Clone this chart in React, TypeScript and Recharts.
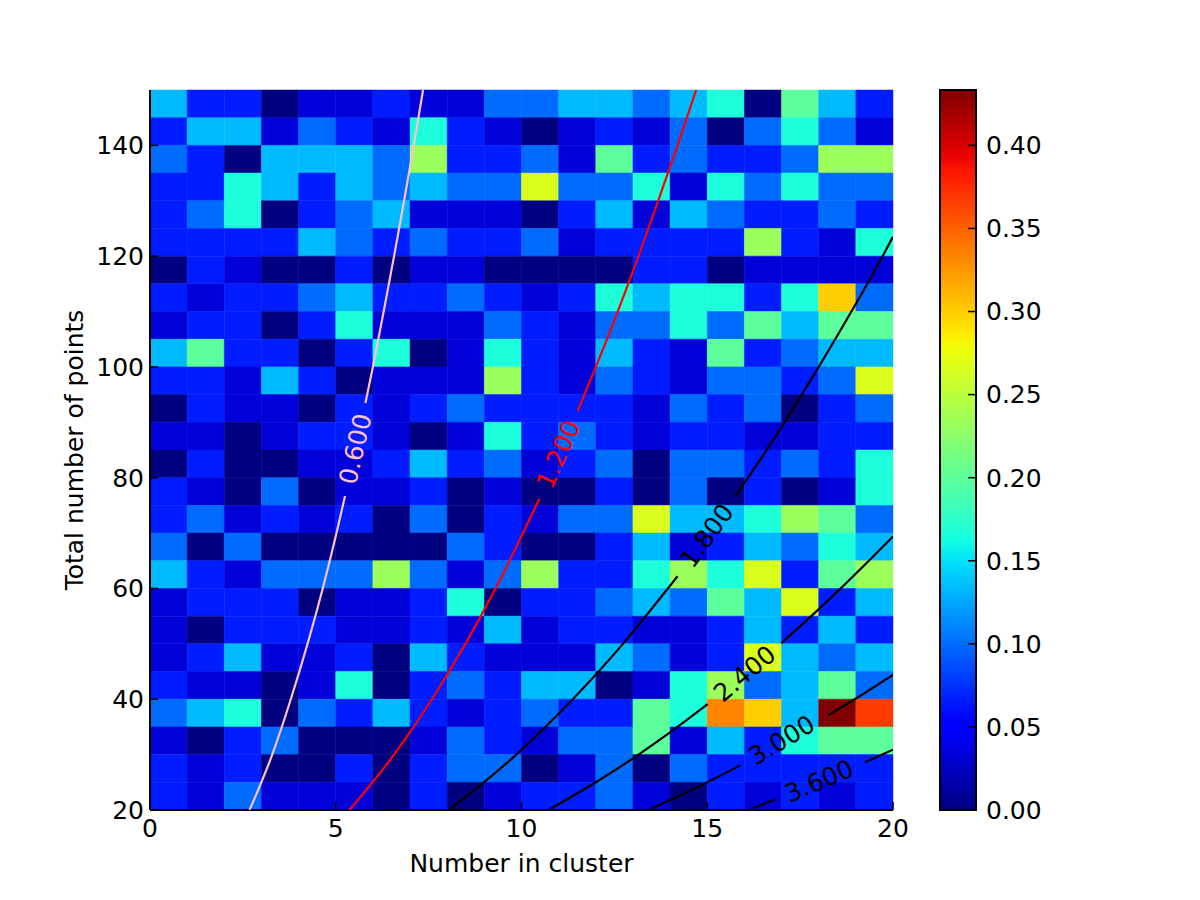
import { ScatterChart, Scatter, XAxis, YAxis, ReferenceArea, ComposedChart } from 'recharts';

const xTicks = [0, 5, 10, 15, 20];
const yTicks = [20, 40, 60, 80, 100, 120, 140];
const colorbarTicks = [0, 0.05, 0.1, 0.15, 0.2, 0.25, 0.3, 0.35, 0.4];

// 30 trials per cell; the colour is the fraction of hits
const TRIALS = 30;
const VMAX = 13 / TRIALS;

// lower edge of each 5-point row, listed top row first
const rowBottoms = [145, 140, 135, 130, 125, 120, 115, 110, 105, 100, 95, 90, 85, 80, 75, 70, 65, 60, 55, 50, 45, 40, 35, 30, 25, 20];

// hits per cell, columns = number in cluster 0..19
const hits = [
  [4, 2, 2, 0, 1, 1, 2, 1, 1, 3, 3, 4, 4, 3, 4, 5, 0, 6, 4, 2],
  [2, 4, 4, 1, 3, 2, 1, 5, 2, 1, 0, 1, 2, 1, 3, 0, 3, 5, 3, 1],
  [3, 2, 0, 4, 4, 4, 3, 7, 2, 2, 3, 1, 6, 2, 3, 2, 2, 3, 7, 7],
  [2, 2, 5, 4, 2, 4, 3, 4, 3, 3, 8, 3, 3, 5, 1, 5, 3, 5, 3, 3],
  [2, 3, 5, 0, 2, 3, 4, 1, 1, 1, 0, 2, 4, 1, 4, 3, 2, 2, 3, 2],
  [2, 2, 2, 2, 4, 3, 2, 3, 2, 2, 3, 1, 2, 2, 2, 2, 7, 2, 1, 5],
  [0, 2, 1, 0, 0, 2, 0, 1, 1, 0, 0, 0, 0, 2, 2, 0, 1, 1, 1, 1],
  [2, 1, 2, 2, 3, 4, 2, 2, 3, 2, 1, 2, 5, 4, 5, 5, 2, 5, 9, 3],
  [1, 2, 2, 0, 2, 5, 1, 1, 1, 3, 2, 1, 3, 3, 5, 3, 6, 4, 6, 6],
  [4, 6, 2, 2, 0, 2, 5, 0, 1, 5, 2, 1, 4, 2, 1, 6, 2, 3, 4, 4],
  [2, 2, 1, 4, 2, 0, 1, 1, 1, 7, 2, 1, 3, 2, 1, 3, 3, 2, 3, 8],
  [0, 2, 1, 1, 0, 2, 1, 2, 3, 2, 2, 2, 2, 1, 3, 2, 3, 0, 2, 3],
  [1, 1, 0, 1, 2, 2, 1, 0, 1, 5, 2, 3, 2, 1, 2, 2, 1, 1, 2, 2],
  [0, 2, 0, 0, 1, 1, 2, 4, 2, 3, 1, 2, 3, 0, 3, 3, 2, 3, 2, 5],
  [2, 1, 0, 3, 0, 1, 1, 2, 0, 1, 0, 0, 2, 0, 3, 0, 2, 0, 1, 5],
  [2, 3, 1, 2, 1, 2, 0, 3, 0, 2, 1, 3, 3, 8, 4, 4, 5, 7, 6, 3],
  [3, 0, 3, 0, 0, 0, 0, 0, 3, 2, 0, 0, 2, 4, 1, 2, 4, 3, 5, 4],
  [4, 2, 1, 3, 3, 3, 7, 3, 1, 3, 7, 2, 2, 5, 7, 5, 8, 2, 6, 7],
  [1, 2, 2, 2, 0, 1, 1, 2, 5, 0, 2, 2, 3, 4, 3, 6, 4, 8, 2, 4],
  [1, 0, 2, 2, 2, 1, 1, 2, 1, 4, 1, 2, 2, 1, 1, 2, 4, 2, 4, 2],
  [1, 2, 4, 1, 1, 2, 0, 4, 2, 1, 1, 1, 4, 3, 1, 2, 8, 4, 3, 4],
  [2, 1, 1, 0, 1, 5, 0, 2, 3, 2, 4, 4, 0, 1, 5, 7, 3, 4, 6, 3],
  [3, 4, 5, 0, 3, 2, 4, 2, 1, 2, 3, 2, 2, 6, 5, 10, 9, 4, 13, 11],
  [1, 0, 2, 3, 0, 0, 0, 1, 3, 2, 1, 3, 3, 6, 1, 4, 2, 5, 6, 6],
  [2, 1, 2, 0, 0, 2, 0, 2, 3, 3, 0, 1, 3, 0, 3, 2, 2, 2, 2, 2],
  [2, 1, 3, 1, 1, 1, 0, 2, 0, 1, 2, 2, 3, 1, 0, 2, 1, 2, 1, 2],
];

// contour paths as [x, y], each split where its inline label sits
const c060Low = [[2.68, 20], [3.29, 30], [3.79, 40], [4.24, 50], [4.65, 60], [5.02, 70], [5.25, 76.7]];
const c060High = [[5.8, 93.5], [6.0, 100], [6.29, 110], [6.57, 120], [6.84, 130], [7.1, 140], [7.35, 150]];
const c120Low = [[5.37, 20], [6.57, 30], [7.59, 40], [8.49, 50], [9.3, 60], [10.04, 70], [10.48, 76.2]];
const c120High = [[11.51, 92], [12.0, 100], [12.59, 110], [13.15, 120], [13.68, 130], [14.2, 140], [14.7, 150]];
const c180Low = [[8.05, 20], [9.86, 30], [11.38, 40], [12.73, 50], [13.94, 60], [14.2, 62.2]];
const c180High = [[15.76, 76.7], [16.1, 80], [17.08, 90], [18.0, 100], [18.88, 110], [19.72, 120], [20.0, 123.5]];
const c240Low = [[10.73, 20], [12.0, 25], [13.15, 30], [14.2, 35], [15.01, 39.1]];
const c240High = [[16.99, 50.1], [17.8, 55], [18.59, 60], [19.35, 65], [20.0, 69.4]];
const c300Low = [[13.42, 20], [14.7, 24], [15.9, 28.1]];
const c300High = [[18.27, 37.1], [18.97, 40], [20.0, 44.4]];
const c360Low = [[16.1, 20], [16.84, 21.9]];
const c360High = [[19.25, 28.6], [20.0, 30.9]];

const contourLabels = [
  { x: 5.53, y: 85.2, level: '0.600' },
  { x: 11.0, y: 84.2, level: '1.200' },
  { x: 14.99, y: 69.5, level: '1.800' },
  { x: 16.01, y: 44.6, level: '2.400' },
  { x: 17.01, y: 32.6, level: '3.000' },
  { x: 18.01, y: 25.2, level: '3.600' },
];

const levelColor: Record<string, string> = {
  '0.600': '#ffc0cb',
  '1.200': '#ff0000',
  '1.800': '#000000',
  '2.400': '#000000',
  '3.000': '#000000',
  '3.600': '#000000',
};
const labelAngle: Record<string, number> = {
  '0.600': -77,
  '1.200': -66,
  '1.800': -54,
  '2.400': -40,
  '3.000': -31,
  '3.600': -23,
};

const segments = [
  { level: '0.600', pts: c060Low }, { level: '0.600', pts: c060High },
  { level: '1.200', pts: c120Low }, { level: '1.200', pts: c120High },
  { level: '1.800', pts: c180Low }, { level: '1.800', pts: c180High },
  { level: '2.400', pts: c240Low }, { level: '2.400', pts: c240High },
  { level: '3.000', pts: c300Low }, { level: '3.000', pts: c300High },
  { level: '3.600', pts: c360Low }, { level: '3.600', pts: c360High },
];

// matplotlib "jet" segment data
const JET_R = [[0, 0], [0.35, 0], [0.66, 1], [0.89, 1], [1, 0.5]];
const JET_G = [[0, 0], [0.125, 0], [0.375, 1], [0.64, 1], [0.91, 0], [1, 0]];
const JET_B = [[0, 0.5], [0.11, 1], [0.34, 1], [0.65, 0], [1, 0]];

function channel(stops: number[][], t: number) {
  for (let i = 1; i < stops.length; i++) {
    const [t1, v1] = stops[i];
    const [t0, v0] = stops[i - 1];
    if (t <= t1) return v0 + ((t - t0) / (t1 - t0)) * (v1 - v0);
  }
  return stops[stops.length - 1][1];
}

function jet(t: number) {
  const u = Math.min(1, Math.max(0, t));
  const c = (s: number[][]) => Math.round(channel(s, u) * 255);
  return `rgb(${c(JET_R)},${c(JET_G)},${c(JET_B)})`;
}

const FONT = 25;
const noMarker = () => <g />;

function ContourLabel(props: any) {
  const { cx, cy, payload } = props;
  const color = levelColor[payload.level];
  return (
    <text
      x={cx}
      y={cy}
      fill={color}
      fontSize={FONT}
      textAnchor="middle"
      dominantBaseline="central"
      transform={`rotate(${labelAngle[payload.level]}, ${cx}, ${cy})`}
    >
      {payload.level}
    </text>
  );
}

function renderXTitle(props: any) {
  const { viewBox } = props;
  return (
    <text x={viewBox.x + viewBox.width / 2} y={viewBox.y + 62} textAnchor="middle" fontSize={FONT} fill="#000">
      Number in cluster
    </text>
  );
}

function renderYTitle(props: any) {
  const { viewBox } = props;
  const x = viewBox.x + 43;
  const y = viewBox.y + viewBox.height / 2;
  return (
    <text x={x} y={y} textAnchor="middle" fontSize={FONT} fill="#000" transform={`rotate(-90, ${x}, ${y})`}>
      Total number of points
    </text>
  );
}

const gradientStops = Array.from({ length: 65 }, (_, i) => i / 64);

export default function App() {
  return (
    <div style={{ position: 'absolute', left: 0, top: 0, width: 1200, height: 900, background: '#fff', fontFamily: '"DejaVu Sans", sans-serif' }}>
      <div style={{ position: 'absolute', left: 0, top: 0 }}>
        <ScatterChart width={1200} height={900} margin={{ top: 90, right: 307, bottom: 0, left: 40 }}>
          <XAxis
            type="number"
            dataKey="x"
            domain={[0, 20]}
            ticks={xTicks}
            interval={0}
            allowDataOverflow
            height={90}
            stroke="#000"
            axisLine={{ stroke: '#000', strokeWidth: 2 }}
            tickLine={{ stroke: '#000', strokeWidth: 1.5 }}
            tickSize={-8}
            tickMargin={17}
            tick={{ fill: '#000', fontSize: FONT }}
            label={renderXTitle}
          />
          <XAxis
            xAxisId="top"
            orientation="top"
            type="number"
            dataKey="x"
            domain={[0, 20]}
            ticks={xTicks}
            interval={0}
            allowDataOverflow
            height={0}
            stroke="#000"
            axisLine={{ stroke: '#000', strokeWidth: 2 }}
            tickLine={{ stroke: '#000', strokeWidth: 1.5 }}
            tickSize={-8}
            tick={false}
          />
          <YAxis
            type="number"
            dataKey="y"
            domain={[20, 150]}
            ticks={yTicks}
            interval={0}
            allowDataOverflow
            width={110}
            stroke="#000"
            axisLine={{ stroke: '#000', strokeWidth: 2 }}
            tickLine={{ stroke: '#000', strokeWidth: 1.5 }}
            tickSize={-8}
            tickMargin={14}
            tick={{ fill: '#000', fontSize: FONT }}
            label={renderYTitle}
          />
          <YAxis
            yAxisId="right"
            orientation="right"
            type="number"
            dataKey="y"
            domain={[20, 150]}
            ticks={yTicks}
            interval={0}
            allowDataOverflow
            width={0}
            stroke="#000"
            axisLine={{ stroke: '#000', strokeWidth: 2 }}
            tickLine={{ stroke: '#000', strokeWidth: 1.5 }}
            tickSize={-8}
            tick={false}
          />
          {hits.flatMap((row, r) =>
            row.map((k, c) => {
              const color = jet(k / TRIALS / VMAX);
              return (
                <ReferenceArea
                  key={`cell-${r}-${c}`}
                  x1={c}
                  x2={c + 1}
                  y1={rowBottoms[r]}
                  y2={rowBottoms[r] + 5}
                  fill={color}
                  fillOpacity={1}
                  stroke={color}
                  strokeWidth={0.5}
                />
              );
            })
          )}
          {segments.map((s, i) => (
            <Scatter
              key={`seg-${i}`}
              data={s.pts.map(([x, y]) => ({ x, y }))}
              fill={levelColor[s.level]}
              line={{ stroke: levelColor[s.level], strokeWidth: 2.2 }}
              lineJointType="monotoneX"
              shape={noMarker}
              isAnimationActive={false}
            />
          ))}
          <Scatter data={contourLabels} shape={ContourLabel} isAnimationActive={false} />
        </ScatterChart>
      </div>
      <div style={{ position: 'absolute', left: 0, top: 0 }}>
        <ComposedChart width={1200} height={900} margin={{ top: 90, right: 164, bottom: 90, left: 940 }}>
          <defs>
            <linearGradient id="jetBar" x1="0" y1="1" x2="0" y2="0">
              {gradientStops.map((t) => (
                <stop key={t} offset={`${t * 100}%`} stopColor={jet(t)} />
              ))}
            </linearGradient>
          </defs>
          <XAxis type="number" dataKey="x" domain={[0, 1]} allowDataOverflow hide />
          <YAxis
            orientation="right"
            type="number"
            domain={[0, VMAX]}
            ticks={colorbarTicks}
            interval={0}
            allowDataOverflow
            width={60}
            axisLine={false}
            tickLine={{ stroke: '#000', strokeWidth: 1.5 }}
            tickSize={-8}
            tickMargin={18}
            tick={{ fill: '#000', fontSize: FONT }}
            tickFormatter={(v: number) => v.toFixed(2)}
          />
          <ReferenceArea x1={0} x2={1} y1={0} y2={VMAX} fill="url(#jetBar)" fillOpacity={1} stroke="#000" strokeWidth={2} />
        </ComposedChart>
      </div>
    </div>
  );
}
